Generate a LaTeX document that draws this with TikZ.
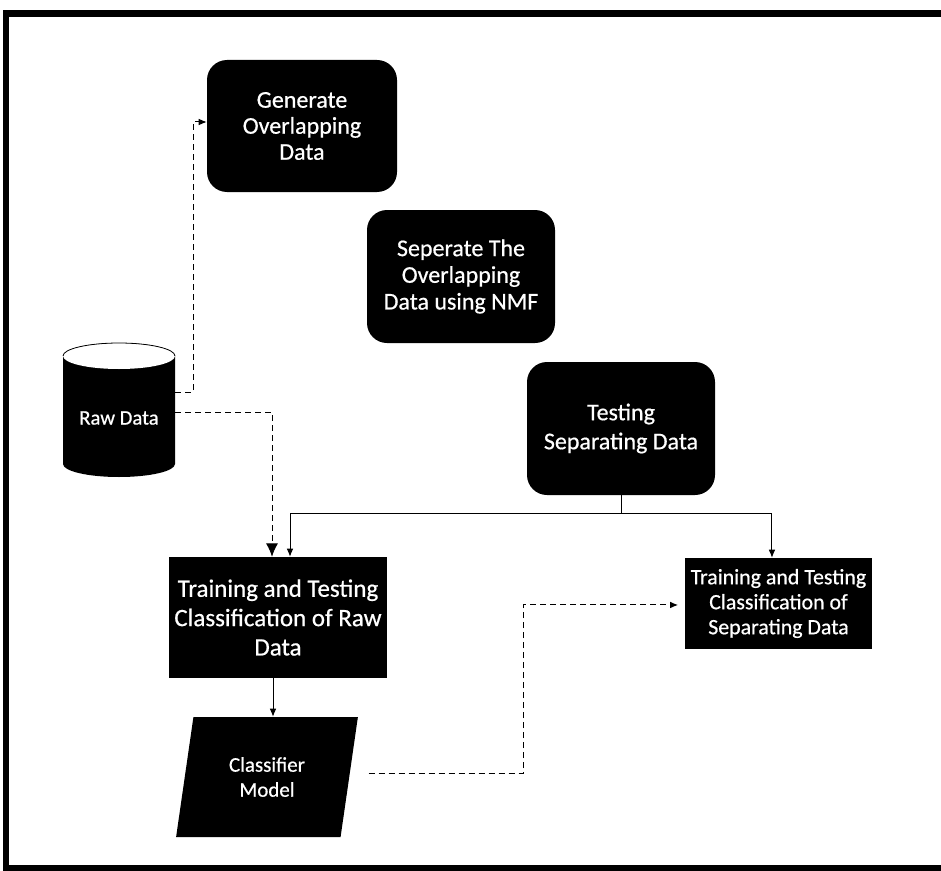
\documentclass[tikz,border=0pt]{standalone}
\usepackage{fontspec}
\setmainfont{Carlito}
\newfontfamily\labelfont{Carlito}[FakeBold=0.6]
\usetikzlibrary{arrows.meta,shapes.geometric}

\tikzset{
  procbox/.style={fill=black, text=white, rounded corners=15pt, align=center, inner sep=0pt},
  plainbox/.style={fill=black, text=white, align=center, inner sep=0pt},
  dashline/.style={dash pattern=on 4.5pt off 3pt, line width=0.75pt},
  solidline/.style={line width=0.75pt},
  smalltip/.style={-{Latex[length=6pt,width=5pt]}},
  bigtip/.style={-{Latex[length=10pt,width=9pt]}},
}

\begin{document}
\begin{tikzpicture}[x=0.75pt,y=-0.75pt]
  \useasboundingbox (0,0) rectangle (941,870);

  % heavy outer frame
  \begin{scope}
    \clip (0,0) rectangle (941,870);
    \draw[line width=4.9pt] (6,13.5) rectangle (990,868.5);
  \end{scope}

  % process steps
  \node[procbox, minimum width=142.5pt, minimum height=99pt,
        font=\labelfont\fontsize{18pt}{19.5pt}\selectfont] (gen) at (302,126)
        {Generate\\Overlapping\\Data};
  \node[procbox, minimum width=141pt, minimum height=99.75pt,
        font=\labelfont\fontsize{18pt}{20pt}\selectfont] (sep) at (461,276.5)
        {Seperate The\\Overlapping\\Data using NMF};
  \node[procbox, minimum width=141pt, minimum height=99.75pt,
        font=\labelfont\fontsize{18pt}{21.75pt}\selectfont] (test) at (621,428.5)
        {Testing\\Separating Data};

  % classification blocks
  \node[plainbox, minimum width=163.5pt, minimum height=90.75pt,
        font=\labelfont\fontsize{18.75pt}{22pt}\selectfont] (lbox) at (278,617.5)
        {Training and Testing\\Classification of Raw\\Data};
  \node[plainbox, minimum width=140.25pt, minimum height=68.25pt,
        font=\labelfont\fontsize{16.4pt}{18.75pt}\selectfont] (rbox) at (778.5,603.5)
        {Training and Testing\\Classification of\\Separating Data};

  % classifier model (parallelogram)
  \node[trapezium, trapezium left angle=77.3, trapezium right angle=102.7,
        trapezium stretches=true, minimum width=136.5pt, minimum height=90pt,
        plainbox, font=\labelfont\fontsize{15.7pt}{18.75pt}\selectfont] (clf) at (267,777)
        {Classifier\\Model};

  % raw data store (cylinder)
  \fill (63,356) -- (63,464)
        arc[start angle=180, end angle=360, x radius=42pt, y radius=9.75pt]
        -- (175,356)
        arc[start angle=0, end angle=180, x radius=42pt, y radius=9.75pt] -- cycle;
  \fill[white] (119,356) ellipse[x radius=42pt, y radius=9.75pt];
  \draw[line width=0.6pt] (175,356)
        arc[start angle=0, end angle=180, x radius=42pt, y radius=9.75pt];
  \node[text=white, inner sep=0pt, minimum width=84pt, minimum height=60pt,
        font=\labelfont\fontsize{15.5pt}{18pt}\selectfont] (raw) at (119,418) {Raw Data};

  % connectors
  \draw[dashline, smalltip] ([yshift=19.5pt]raw.east) -- ++(18,0)
        |- ([yshift=3pt]gen.west);
  \draw[dashline, bigtip] ([yshift=4.5pt]raw.east)
        -| ([xshift=-4.5pt]lbox.north);
  \draw[solidline, smalltip] (test.south) -- ++(0,18)
        -| ([xshift=9pt]lbox.north);
  \draw[solidline, smalltip] (test.south) -- ++(0,18)
        -| ([xshift=-4.9pt]rbox.north);
  \draw[solidline, smalltip] ([xshift=-3.75pt]lbox.south)
        -- ([xshift=-3.75pt]lbox.south |- clf.north);
  \draw[dashline, smalltip, shorten >=5pt] ([xshift=14.25pt,yshift=3pt]clf.east)
        -- ++(155,0) |- ([yshift=-1.1pt]rbox.west);
\end{tikzpicture}
\end{document}
